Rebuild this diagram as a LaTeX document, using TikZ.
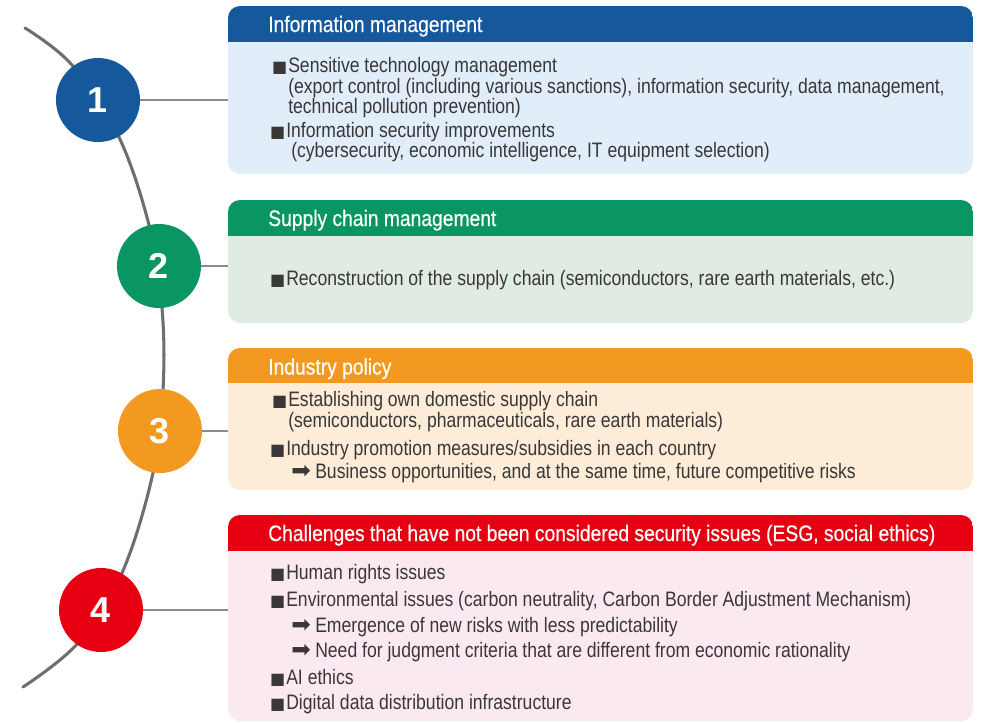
\documentclass[tikz,border=0pt]{standalone}
\usepackage{fontspec}
\setmainfont{Liberation Sans}[FakeStretch=0.84]
\newfontfamily\headfont{Liberation Sans}[FakeStretch=0.86, FakeBold=0.35]
\newfontfamily\symfont{DejaVu Sans}
\newfontfamily\numfont{Liberation Sans}
\usetikzlibrary{arrows.meta}

\definecolor{headblue}{HTML}{16589C}
\definecolor{bodyblue}{HTML}{E1EEFA}
\definecolor{headgreen}{HTML}{0A9662}
\definecolor{bodygreen}{HTML}{E0EBE3}
\definecolor{headorange}{HTML}{F3991F}
\definecolor{bodyorange}{HTML}{FDECD7}
\definecolor{headred}{HTML}{E60012}
\definecolor{bodyred}{HTML}{FBE9F1}
\definecolor{txtgray}{HTML}{3A3737}

\newcommand{\sqb}{\makebox[11.25pt][l]{\hspace*{-0.8pt}\symfont\fontsize{12}{12}\selectfont ■}}
\newcommand{\arrb}{\makebox[18pt][l]{\symfont\fontsize{17.5}{17.5}\selectfont ➡}}

\tikzset{
  num/.style={circle, fill=#1, minimum size=63pt, inner sep=0pt, text=white,
    font=\numfont\bfseries\fontsize{27}{27}\selectfont},
  head/.style={anchor=base west, inner sep=0pt, text=white, font=\headfont\fontsize{16.8}{20}\selectfont},
  item/.style={anchor=base west, inner sep=0pt, text=txtgray, font=\fontsize{15.7}{18}\selectfont},
  link/.style={draw=black!45, line width=1.1pt},
  arc/.style={draw=black!57, line width=2.3pt, line cap=round}
}

\begin{document}
\begin{tikzpicture}[x=0.75pt,y=0.75pt,yscale=-1,xscale=1]
\useasboundingbox (0,0) rectangle (982,722);

%Shape: Panel 1
\begin{scope}
\clip[rounded corners=9pt] (228,6) rectangle (973,174);
\fill[bodyblue] (228,6) rectangle (973,174);
\fill[headblue] (228,6) rectangle (973,42);
\end{scope}
%Shape: Panel 2
\begin{scope}
\clip[rounded corners=9pt] (228,200) rectangle (973,323);
\fill[bodygreen] (228,200) rectangle (973,323);
\fill[headgreen] (228,200) rectangle (973,236);
\end{scope}
%Shape: Panel 3
\begin{scope}
\clip[rounded corners=9pt] (228,348) rectangle (973,490);
\fill[bodyorange] (228,348) rectangle (973,490);
\fill[headorange] (228,348) rectangle (973,383);
\end{scope}
%Shape: Panel 4
\begin{scope}
\clip[rounded corners=9pt] (228,515) rectangle (973,721);
\fill[bodyred] (228,515) rectangle (973,721);
\fill[headred] (228,515) rectangle (973,551);
\end{scope}

%Curve: timeline arc
\draw[arc] plot[smooth, tension=0.6] coordinates {(25,28) (72,65) (118,135) (149,225) (162,308) (163,390) (153,473) (122,573) (78,643) (23,687)};

% Circles
\node (c1) [num=headblue] at (98,100) {1};
\node (c2) [num=headgreen] at (159,266) {2};
\node (c3) [num=headorange] at (160,431) {3};
\node (c4) [num=headred] at (101,610) {4};

% panel edges
\coordinate (p1) at (228,100);
\coordinate (p2) at (228,266);
\coordinate (p3) at (228,431);
\coordinate (p4) at (228,610);

%Straight Lines
\draw[link] (c1) -- (p1);
\draw[link] (c2) -- (p2);
\draw[link] (c3) -- (p3);
\draw[link] (c4) -- (p4);

% Text Node: panel 1
\node (h1) [head] at (268,32) {Information management};
\node (t11) [item] at (273,72) {\sqb Sensitive technology management};
\node (t12) [item] at (288,93) {(export control (including various sanctions), information security, data management,};
\node (t13) [item] at (288,113.5) {technical pollution prevention)};
\node (t14) [item] at (271,137) {\sqb Information security improvements};
\node (t15) [item] at (291,157) {(cybersecurity, economic intelligence, IT equipment selection)};

% Text Node: panel 2
\node (h2) [head] at (268,226) {Supply chain management};
\node (t21) [item] at (271,285) {\sqb Reconstruction of the supply chain (semiconductors, rare earth materials, etc.)};

% Text Node: panel 3
\node (h3) [head] at (268,374.5) {Industry policy};
\node (t31) [item] at (273,406.5) {\sqb Establishing own domestic supply chain};
\node (t32) [item] at (288,427) {(semiconductors, pharmaceuticals, rare earth materials)};
\node (t33) [item] at (271,455) {\sqb Industry promotion measures/subsidies in each country};
\node (t34) [item] at (291,478) {\arrb Business opportunities, and at the same time, future competitive risks};

% Text Node: panel 4
\node (h4) [head] at (268,541) {Challenges that have not been considered security issues (ESG, social ethics)};
\node (t41) [item] at (271,579.5) {\sqb Human rights issues};
\node (t42) [item] at (271,606) {\sqb Environmental issues (carbon neutrality, Carbon Border Adjustment Mechanism)};
\node (t43) [item] at (291,632) {\arrb Emergence of new risks with less predictability};
\node (t44) [item] at (291,657.5) {\arrb Need for judgment criteria that are different from economic rationality};
\node (t45) [item] at (271,684) {\sqb AI ethics};
\node (t46) [item] at (271,709) {\sqb Digital data distribution infrastructure};

\end{tikzpicture}
\end{document}
